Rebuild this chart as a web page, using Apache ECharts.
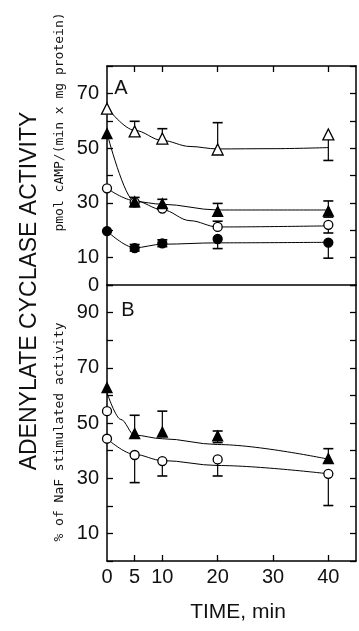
<!DOCTYPE html>
<html><head><meta charset="utf-8">
<script src="https://cdn.jsdelivr.net/npm/echarts@6/dist/echarts.min.js"></script>
<style>html,body{margin:0;padding:0;background:#fff}#c{width:359px;height:631px}</style>
</head><body><div id="c"></div>
<script>
// ---- data (time in min, activity) ----
const timeLabels = [0, 5, 10, 20, 30, 40];
const timeTicks = [5, 10, 20, 30, 40];
const yLabelsA = [0, 10, 30, 50, 70];
const yLabelsB = [10, 30, 50, 70, 90];

// Panel A points: [time, value, low, high]
const aOpenTri = [[0,64.4,64.4,64.4],[5,56.1,56.1,59.8],[10,53.5,53.5,57.1],[20,49.5,49.5,59.3],[40,55.0,45.5,55.0]];
const aFilledTri = [[0,55.3,55.3,55.3],[5,30.4,28.6,32.0],[10,29.7,27.8,31.3],[20,26.9,26.9,29.8],[40,27.0,24.8,30.7]];
const aOpenCirc = [[0,35.3,35.3,35.3],[5,30.2,30.2,30.2],[10,27.9,27.9,27.9],[20,21.2,21.2,23.3],[40,22.0,19.0,22.0]];
const aFilledCirc = [[0,19.7,19.7,19.7],[5,13.5,12.4,14.8],[10,15.2,14.0,16.5],[20,16.8,13.3,16.8],[40,15.5,9.8,15.5]];
// Panel A fitted curves
const aOpenTriCurve = [[0,64.8],[5,56.5],[10,52.8],[15,50.6],[20,49.7],[30,49.8],[40,50.2]];
const aFilledTriCurve = [[0,55.5],[5,30.5],[10,29.5],[20,27.4],[40,27.4]];
const aOpenCircCurve = [[0,35.3],[5,30.8],[10,27.5],[15,23.5],[20,21.2],[40,21.6]];
const aFilledCircCurve = [[0,19.7],[5,13.6],[10,14.9],[20,15.4],[40,15.6]];

// Panel B points
const bFilledTri = [[0,62.8,62.8,62.8],[5,46.2,46.2,52.8],[10,46.7,46.7,54.3],[20,45.3,42.9,47.1],[40,37.1,37.1,40.7]];
const bOpenCirc = [[0,54.3,54.3,54.3],[0,44.3,44.3,44.3],[5,38.4,28.4,38.4],[10,36.2,30.8,36.2],[20,36.8,30.8,36.8],[40,31.6,20.1,31.6]];
// Panel B fitted curves
const bFilledTriCurve = [[0,61.0],[2.5,51.3],[5,45.6],[10,44.3],[20,42.2],[40,36.9]];
const bOpenCircCurve = [[0,44.3],[5,38.6],[10,36.4],[20,34.6],[40,31.6]];

const FONT = 'Liberation Sans';
const chart = echarts.init(document.getElementById('c'), null, {renderer:'canvas'});

function errBars(data, xi, yi) {
  return {
    type:'custom', xAxisIndex:xi, yAxisIndex:yi, z:3, silent:true,
    data:data,
    encode:{x:0, y:1},
    renderItem:function(params, api){
      const t = api.value(0), v = api.value(1), lo = api.value(2), hi = api.value(3);
      const ch = [];
      const pv = api.coord([t, v]);
      const pl = api.coord([t, lo]);
      const ph = api.coord([t, hi]);
      const st = {stroke:'#000', lineWidth:1.2};
      if (hi > v) {
        ch.push({type:'line', shape:{x1:pv[0],y1:pv[1],x2:ph[0],y2:ph[1]}, style:st});
        ch.push({type:'line', shape:{x1:ph[0]-5,y1:ph[1],x2:ph[0]+5,y2:ph[1]}, style:{stroke:'#000', lineWidth:1.6}});
      }
      if (lo < v) {
        ch.push({type:'line', shape:{x1:pv[0],y1:pv[1],x2:pl[0],y2:pl[1]}, style:st});
        ch.push({type:'line', shape:{x1:pl[0]-5,y1:pl[1],x2:pl[0]+5,y2:pl[1]}, style:{stroke:'#000', lineWidth:1.6}});
      }
      return {type:'group', children:ch};
    }
  };
}
function curve(data, xi, yi) {
  return {type:'line', xAxisIndex:xi, yAxisIndex:yi, data:data, smooth:0.35, smoothMonotone:'x',
    showSymbol:false, symbol:'none', lineStyle:{color:'#000', width:1}, z:2, silent:true};
}
function pts(data, xi, yi, symbol, filled, size) {
  return {type:'scatter', xAxisIndex:xi, yAxisIndex:yi, data:data.map(d=>[d[0],d[1]]),
    symbol:symbol, symbolSize:size, z:5, silent:true,
    itemStyle:{color: filled ? '#000' : '#fff', borderColor:'#000', borderWidth:1.3, opacity:1}};
}

const axisLine = {show:true, onZero:false, lineStyle:{color:'#000', width:1.5}};
const labelStyle = {color:'#111', fontFamily:FONT, fontSize:20};

const option = {
  animation:false,
  backgroundColor:'#fff',
  grid:[
    {left:107, top:66, width:249, height:219},
    {left:107, top:285, width:249, height:276}
  ],
  xAxis:[
    {gridIndex:0, type:'value', min:0, max:45, position:'top', axisLine:axisLine,
      axisTick:{show:true, inside:true, length:6, customValues:timeTicks, lineStyle:{color:'#000', width:1.3}},
      axisLabel:{show:false}, splitLine:{show:false}},
    {gridIndex:1, type:'value', min:0, max:45, position:'bottom', axisLine:axisLine,
      axisTick:{show:true, inside:true, length:6, customValues:timeTicks, lineStyle:{color:'#000', width:1.3}},
      axisLabel:Object.assign({show:true, margin:6, customValues:timeLabels}, labelStyle), splitLine:{show:false}},
    {gridIndex:1, type:'value', min:0, max:45, position:'top', axisLine:axisLine,
      axisTick:{show:false}, axisLabel:{show:false}, splitLine:{show:false}}
  ],
  yAxis:[
    {gridIndex:0, type:'value', min:0, max:80, interval:10, position:'left', axisLine:axisLine,
      axisTick:{show:true, inside:true, length:6, lineStyle:{color:'#000', width:1.3}},
      axisLabel:Object.assign({show:true, margin:8, customValues:yLabelsA}, labelStyle), splitLine:{show:false}},
    {gridIndex:0, type:'value', min:0, max:80, interval:10, position:'right', axisLine:axisLine,
      axisTick:{show:true, inside:true, length:6, lineStyle:{color:'#000', width:1.3}},
      axisLabel:{show:false}, splitLine:{show:false}},
    {gridIndex:1, type:'value', min:0, max:100, interval:10, position:'left', axisLine:axisLine,
      axisTick:{show:true, inside:true, length:6, lineStyle:{color:'#000', width:1.3}},
      axisLabel:Object.assign({show:true, margin:8, customValues:yLabelsB}, labelStyle), splitLine:{show:false}},
    {gridIndex:1, type:'value', min:0, max:100, interval:10, position:'right', axisLine:axisLine,
      axisTick:{show:true, inside:true, length:6, lineStyle:{color:'#000', width:1.3}},
      axisLabel:{show:false}, splitLine:{show:false}}
  ],
  graphic:[
    {type:'text', x:30, y:291, rotation:Math.PI/2, style:{text:'ADENYLATE CYCLASE ACTIVITY', font:'23px "Liberation Sans"', fill:'#111', textAlign:'center', textVerticalAlign:'middle'}},
    {type:'text', x:60, y:122, rotation:Math.PI/2, style:{text:'pmol cAMP/(min x mg protein)', font:'13px "DejaVu Sans Mono"', fill:'#111', textAlign:'center', textVerticalAlign:'middle'}},
    {type:'text', x:60, y:432, rotation:Math.PI/2, style:{text:'% of NaF stimulated activity', font:'13px "DejaVu Sans Mono"', fill:'#111', textAlign:'center', textVerticalAlign:'middle'}},
    {type:'text', x:121, y:88, style:{text:'A', font:'20px "Liberation Sans"', fill:'#111', textAlign:'center', textVerticalAlign:'middle'}},
    {type:'text', x:128, y:310, style:{text:'B', font:'20px "Liberation Sans"', fill:'#111', textAlign:'center', textVerticalAlign:'middle'}},
    {type:'text', x:238, y:612, style:{text:'TIME, min', font:'21px "Liberation Sans"', fill:'#111', textAlign:'center', textVerticalAlign:'middle'}}
  ],
  series:[
    curve(aOpenTriCurve,0,0), curve(aFilledTriCurve,0,0), curve(aOpenCircCurve,0,0), curve(aFilledCircCurve,0,0),
    errBars(aOpenTri,0,0), errBars(aFilledTri,0,0), errBars(aOpenCirc,0,0), errBars(aFilledCirc,0,0),
    pts(aOpenTri,0,0,'triangle',false,11), pts(aOpenCirc,0,0,'circle',false,9),
    pts(aFilledTri,0,0,'triangle',true,10), pts(aFilledCirc,0,0,'circle',true,9),
    curve(bFilledTriCurve,1,2), curve(bOpenCircCurve,1,2),
    errBars(bFilledTri,1,2), errBars(bOpenCirc,1,2),
    pts(bOpenCirc,1,2,'circle',false,9), pts(bFilledTri,1,2,'triangle',true,10)
  ]
};
chart.setOption(option);
</script>
</body></html>
